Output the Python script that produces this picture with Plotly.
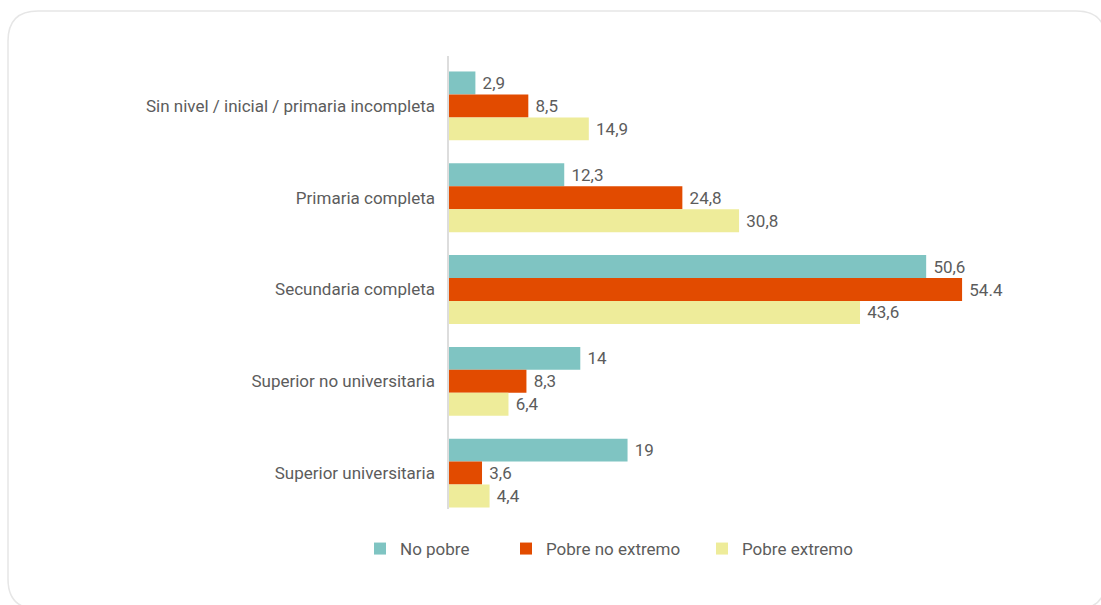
import plotly.graph_objects as go

categories = [
    "Sin nivel / inicial / primaria incompleta",
    "Primaria completa",
    "Secundaria completa",
    "Superior no universitaria",
    "Superior universitaria",
]
series_names = ["No pobre", "Pobre no extremo", "Pobre extremo"]
no_pobre = [2.9, 12.3, 50.6, 14, 19]
pobre_no_extremo = [8.5, 24.8, 54.4, 8.3, 3.6]
pobre_extremo = [14.9, 30.8, 43.6, 6.4, 4.4]
labels_no_pobre = ["2,9", "12,3", "50,6", "14", "19"]
labels_pobre_no_extremo = ["8,5", "24,8", "54.4", "8,3", "3,6"]
labels_pobre_extremo = ["14,9", "30,8", "43,6", "6,4", "4,4"]

colors = ["#7FC4C2", "#E24B00", "#EEEC9A"]
legend_widths = [101, 151, None]

W, H = 1101, 605
ML, MR, MT, MB = 448, 52, 60, 86
PW, PH = W - ML - MR, H - MT - MB
PX_PER_UNIT = 9.45
FS = 17
TXT = "#5c5c5c"

fig = go.Figure()
for name, vals, labs, col, lw in zip(
    series_names,
    [no_pobre, pobre_no_extremo, pobre_extremo],
    [labels_no_pobre, labels_pobre_no_extremo, labels_pobre_extremo],
    colors, legend_widths,
):
    fig.add_trace(go.Bar(
        y=categories, x=vals, name=name, orientation="h",
        marker=dict(color=col, line=dict(width=0)),
        text=["\u00a0" + t for t in labs], textposition="outside",
        textfont=dict(family="Roboto", size=FS, color=TXT),
        cliponaxis=False,
        legendwidth=lw,
    ))


def px(x):
    return (x - ML) / PW


def py(y):
    return (H - MB - y) / PH


# rounded card border
x0, y0, x1, y1, r = 8, 11, 1106, 609, 30
path = (
    f"M {px(x0 + r)},{py(y0)} L {px(x1 - r)},{py(y0)} "
    f"Q {px(x1)},{py(y0)} {px(x1)},{py(y0 + r)} "
    f"L {px(x1)},{py(y1 - r)} Q {px(x1)},{py(y1)} {px(x1 - r)},{py(y1)} "
    f"L {px(x0 + r)},{py(y1)} Q {px(x0)},{py(y1)} {px(x0)},{py(y1 - r)} "
    f"L {px(x0)},{py(y0 + r)} Q {px(x0)},{py(y0)} {px(x0 + r)},{py(y0)} Z"
)

fig.update_layout(
    width=W, height=H,
    margin=dict(l=ML, r=MR, t=MT, b=MB),
    paper_bgcolor="white", plot_bgcolor="white",
    barmode="group", bargap=0.25, bargroupgap=0,
    font=dict(family="Roboto", size=FS, color=TXT),
    xaxis=dict(range=[0, PW / PX_PER_UNIT], visible=False, fixedrange=True),
    yaxis=dict(
        autorange="reversed", showgrid=False, zeroline=False, showline=False,
        ticks="", ticklabelstandoff=12,
        tickfont=dict(family="Roboto", size=FS, color=TXT),
    ),
    legend=dict(
        orientation="h", xref="container", yref="container",
        x=(375 - 15) / W, xanchor="left", y=1 - 549 / H, yanchor="middle",
        font=dict(family="Roboto", size=FS, color=TXT),
    ),
    shapes=[
        dict(type="path", path=path, xref="paper", yref="paper",
             line=dict(color="#e6e6e6", width=1.5), layer="below"),
        dict(type="line", xref="paper", yref="paper",
             x0=px(448), x1=px(448), y0=py(56), y1=py(509),
             line=dict(color="#dddddd", width=2), layer="above"),
    ],
    showlegend=True,
)

fig.write_html("out.html")
